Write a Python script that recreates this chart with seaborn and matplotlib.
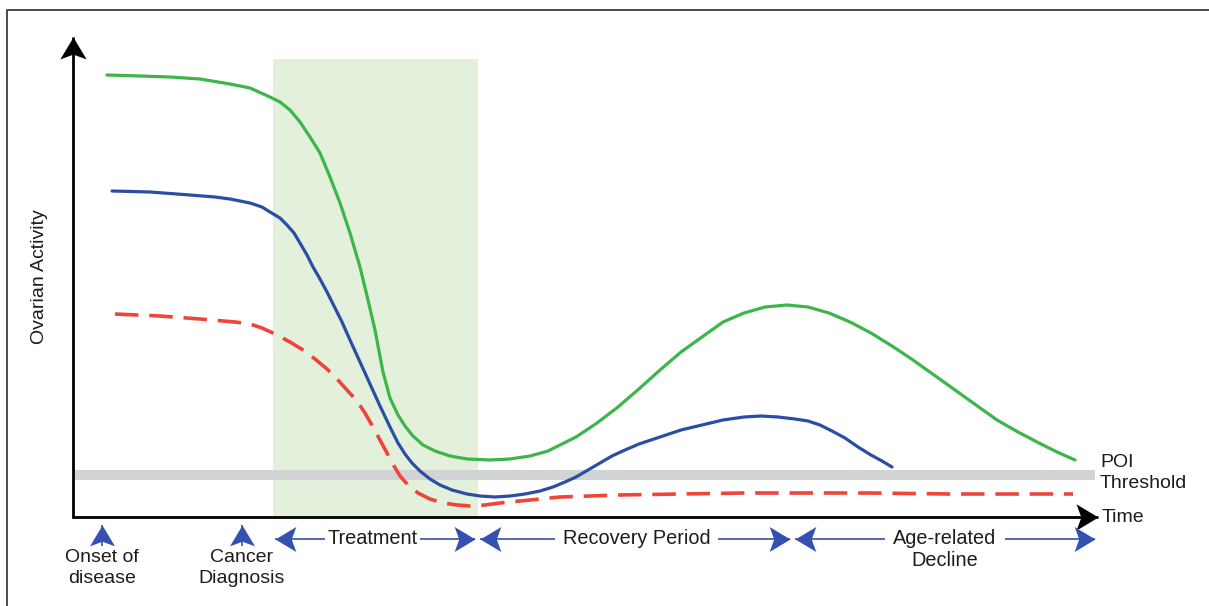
import matplotlib
matplotlib.use('Agg')
import matplotlib.pyplot as plt
from matplotlib.path import Path
import seaborn as sns

# curves (time on x, ovarian activity on y)
green_t = [34, 67, 97, 127, 157, 177, 197, 207, 217, 227, 237, 247, 257, 267, 277, 287, 295, 302,
           310, 317, 325, 332, 340, 350, 362, 377, 394, 417, 437, 457, 475, 489, 503, 524, 545,
           567, 587, 608, 629, 650, 671, 692, 714, 735, 756, 777, 798, 819, 840, 861, 882, 903,
           924, 945, 966, 984, 1002]
green_a = [442, 441, 440, 438, 433, 429, 420, 415, 407, 395, 380, 364, 340, 314, 284, 250, 217, 187,
           145, 119, 102, 91, 81, 72, 66, 61, 58, 57, 58, 61, 66, 73, 80, 94, 110,
           129, 147, 165, 180, 195, 204, 210, 212, 210, 204, 195, 184, 171, 157, 142, 127, 112,
           97, 85, 74, 65, 57]

blue_t = [39, 77, 117, 142, 157, 177, 189, 197, 207, 214, 221, 227, 234, 240, 247, 254, 262, 269,
          277, 287, 297, 307, 317, 325, 332, 339, 347, 357, 367, 379, 394, 407, 422, 437, 452,
          467, 480, 492, 503, 515, 527, 539, 552, 566, 587, 608, 629, 650, 671, 688, 705, 722,
          735, 747, 759, 772, 785, 798, 809, 819]
blue_a = [326, 325, 322, 320, 318, 314, 310, 305, 299, 292, 284, 274, 262, 250, 238, 225, 209, 195,
          177, 155, 133, 111, 90, 74, 63, 54, 46, 38, 32, 27, 23, 21, 20, 21, 23,
          26, 30, 35, 40, 47, 54, 61, 67, 73, 80, 87, 92, 97, 100, 101, 100, 98,
          96, 92, 86, 79, 70, 62, 56, 50]

red_t = [42, 87, 127, 162, 177, 189, 202, 217, 230, 242, 254, 264, 274, 284, 292, 300, 307, 314,
         321, 327, 335, 345, 357, 370, 384, 397, 412, 427, 447, 467, 487, 517, 545, 607, 671,
         727, 798, 877, 937, 1000]
red_a = [203, 201, 198, 195, 193, 189, 183, 175, 167, 158, 148, 138, 127, 116, 104, 90, 77, 64,
         51, 41, 32, 24, 18, 14, 12, 11, 12, 14, 16, 18, 20, 21, 22, 23, 24,
         24, 24, 23, 23, 23]

poi_level = 42
treatment_span = (200, 405)
treatment_top = 458

events = ['Onset of\ndisease', 'Cancer\nDiagnosis']
event_t = [29, 169]

phases = ['Treatment', 'Recovery Period', 'Age-related\nDecline']
phase_start = [202, 407, 722]
phase_end = [402, 717, 1022]
phase_gap = [(252, 347), (482, 645), (812, 932)]

GREEN = '#3db54a'
BLUE = '#2a4ea6'
RED = '#f0443a'
ARROW = '#3450b0'
TXT = '#1c1c1c'


def head(dx, dy):
    # notched arrow head, tip at the marker origin, pointing along (dx, dy)
    base = [(0, 0), (-1, 0.6), (-0.78, 0), (-1, -0.6), (0, 0)]
    verts = [(x * dx - y * dy, x * dy + y * dx) for x, y in base]
    return Path(verts, [Path.MOVETO, Path.LINETO, Path.LINETO, Path.LINETO, Path.CLOSEPOLY])


def arrow(ax, x0, y0, x1, y1, color, lw, size):
    ax.plot([x0, x1], [y0, y1], color=color, lw=lw, solid_capstyle='butt', zorder=5)
    dx, dy = (1, 0) if y0 == y1 else (0, 1)
    if x1 < x0 or y1 < y0:
        dx, dy = -dx, -dy
    ax.scatter([x1], [y1], marker=head(dx, dy), s=size, color=color, linewidths=0, zorder=6)


sns.set_style('white')
plt.rcParams['font.family'] = ['Liberation Sans', 'DejaVu Sans']

fig = plt.figure(figsize=(12.09, 6.06), dpi=100)
ax = fig.add_axes([0, 0, 1, 1])
ax.set_xlim(-73, 1136)
ax.set_ylim(-89, 517)
ax.axis('off')

# outer frame (left and top only visible)
ax.plot([-66, -66, 1136], [-89, 507, 507], color='#3a3f44', lw=1.3, clip_on=False)

# treatment window and POI threshold band
ax.fill_between(list(treatment_span), 0, treatment_top, color='#e2f0dc', lw=0, zorder=1)
ax.fill_between([0, 1022], poi_level - 5, poi_level + 5, color='#d2d3d5', lw=0, zorder=2)

sns.lineplot(x=green_t, y=green_a, sort=False, estimator=None, color=GREEN, lw=2.3, ax=ax, zorder=4)
sns.lineplot(x=blue_t, y=blue_a, sort=False, estimator=None, color=BLUE, lw=2.3, ax=ax, zorder=4)
sns.lineplot(x=red_t, y=red_a, sort=False, estimator=None, color=RED, lw=2.6,
             linestyle=(0, (6.5, 3)), ax=ax, zorder=4)

# axes with arrow heads
arrow(ax, 0, -1, 0, 480, 'black', 2, 1000)
arrow(ax, -1, 0, 1025, 0, 'black', 2, 1000)

ax.text(-33, 240, 'Ovarian Activity', rotation=90, ha='center', va='center', fontsize=14, color=TXT)
ax.text(1029, 0, 'Time', ha='left', va='center', fontsize=14, color=TXT)
ax.text(1027, 44, 'POI\nThreshold', ha='left', va='center', fontsize=14, color=TXT, linespacing=1.25)

for label, t in zip(events, event_t):
    arrow(ax, t, -29, t, -8, ARROW, 1.2, 900)
    ax.text(t, -51, label, ha='center', va='center', fontsize=14, color=TXT, linespacing=1.25)

for label, s, e, (g0, g1) in zip(phases, phase_start, phase_end, phase_gap):
    arrow(ax, g0, -22, s, -22, ARROW, 1.2, 900)
    arrow(ax, g1, -22, e, -22, ARROW, 1.2, 900)
    lines = label.split('\n')
    for i, line in enumerate(lines):
        ax.text((g0 + g1) / 2, -22 - 22 * i, line, ha='center', va='center',
                fontsize=14.3, color=TXT)

fig.savefig('out.png', dpi=100)
